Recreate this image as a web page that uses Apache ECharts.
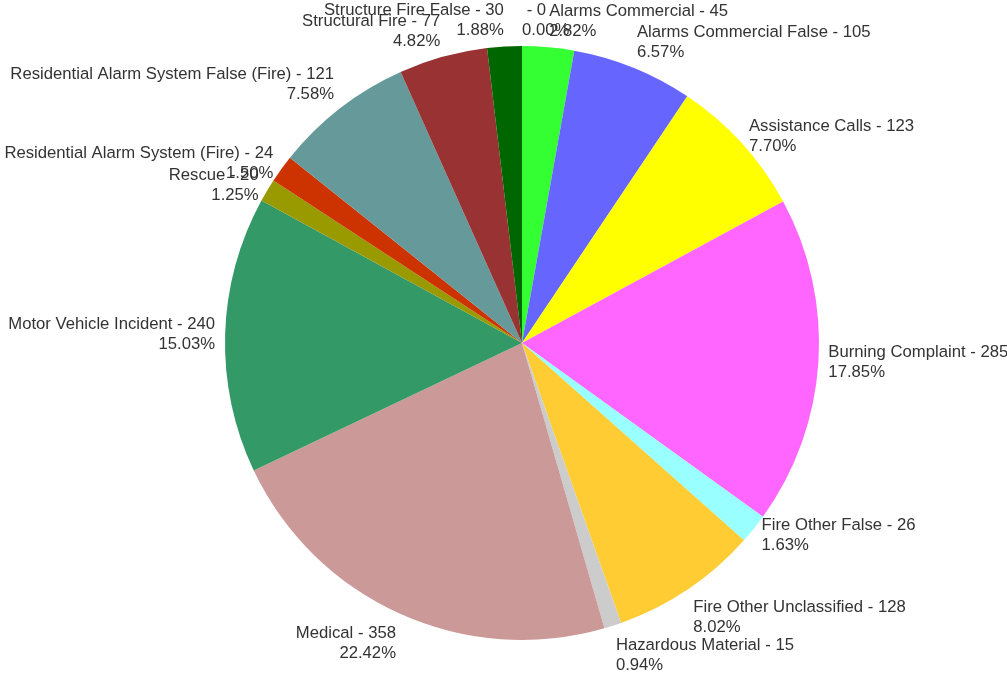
<!DOCTYPE html>
<html>
<head>
<meta charset="utf-8">
<script src="https://cdn.jsdelivr.net/npm/echarts@6/dist/echarts.min.js"></script>
<style>
  html, body { margin: 0; padding: 0; background: #ffffff; }
  #chart { width: 1007px; height: 674px; }
</style>
</head>
<body>
<div id="chart"></div>
<script>
// Incident categories and counts, clockwise from 12 o'clock
const categories = [
  '',
  'Alarms Commercial',
  'Alarms Commercial False',
  'Assistance Calls',
  'Burning Complaint',
  'Fire Other False',
  'Fire Other Unclassified',
  'Hazardous Material',
  'Medical',
  'Motor Vehicle Incident',
  'Rescue',
  'Residential Alarm System (Fire)',
  'Residential Alarm System False (Fire)',
  'Structural Fire',
  'Structure Fire False'
];
const counts = [0, 45, 105, 123, 285, 26, 128, 15, 358, 240, 20, 24, 121, 77, 30];
const sliceColors = [
  '#cccccc', '#33ff33', '#6666ff', '#ffff00', '#ff66ff', '#99ffff', '#ffcc33',
  '#cccccc', '#cc9999', '#339966', '#999900', '#cc3300', '#669999', '#993333', '#006600'
];

const CENTER = [522, 343];
const RADIUS = 297;
const LABEL_GAP = 10;
// bottom-anchored labels sit a little lower to absorb the empty descender space of the line box
const BOTTOM_NUDGE = 4;

const total = counts.reduce((a, b) => a + b, 0);
const startShare = [];
counts.reduce((acc, v, i) => { startShare[i] = acc; return acc + v; }, 0);

function midAngleDeg(i) {
  return (startShare[i] + counts[i] / 2) / total * 360;
}

const chart = echarts.init(document.getElementById('chart'), null, { renderer: 'canvas' });

chart.setOption({
  backgroundColor: '#ffffff',
  animation: false,
  series: [{
    type: 'pie',
    center: CENTER,
    radius: RADIUS,
    startAngle: 90,
    clockwise: true,
    avoidLabelOverlap: false,
    minShowLabelAngle: -1,
    stillShowZeroSum: true,
    data: categories.map((name, i) => ({
      name: name,
      value: counts[i],
      itemStyle: { color: sliceColors[i] }
    })),
    itemStyle: { borderWidth: 0 },
    emphasis: { disabled: true },
    label: {
      show: true,
      position: 'outside',
      fontFamily: 'Liberation Sans, Arial, sans-serif',
      fontSize: 16.7,
      lineHeight: 20,
      color: '#333333',
      formatter: p => {
        const pct = (counts[p.dataIndex] / total * 100).toFixed(2);
        return (p.name ? p.name + ' ' : ' ') + '- ' + p.value + '\n' + pct + '%';
      }
    },
    labelLine: { show: false, length: LABEL_GAP, length2: 0 },
    labelLayout: params => {
      const deg = midAngleDeg(params.dataIndex);
      const rad = deg * Math.PI / 180;
      const d = RADIUS + LABEL_GAP;
      const x = CENTER[0] + d * Math.sin(rad);
      let y = CENTER[1] - d * Math.cos(rad);
      let va = 'middle';
      if (deg <= 45 || deg >= 315) { va = 'bottom'; y += BOTTOM_NUDGE; }
      else if (deg >= 135 && deg <= 225) va = 'top';
      return { x: x, y: y, align: deg < 180 ? 'left' : 'right', verticalAlign: va };
    }
  }]
});
</script>
</body>
</html>
